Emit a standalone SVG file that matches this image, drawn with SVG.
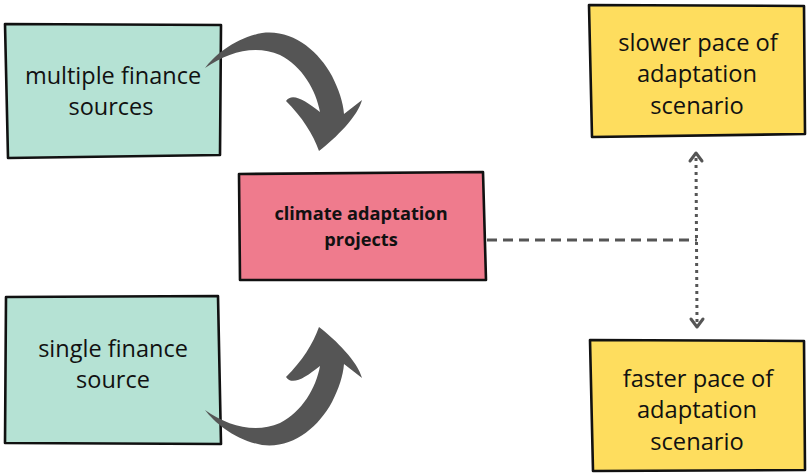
<svg xmlns="http://www.w3.org/2000/svg" width="808" height="473" viewBox="0 0 808 473">
<defs>
<style>
.box{stroke:#111;stroke-width:2.6;stroke-linejoin:round}
.green{fill:#b5e2d4}
.pink{fill:#ef7b8d}
.yellow{fill:#fedd5e}
.t{font-family:"Open Sans","Liberation Sans",sans-serif;font-size:23.5px;fill:#111;text-anchor:middle}
.ty{font-family:"Open Sans","Liberation Sans",sans-serif;font-size:23.7px;fill:#111;text-anchor:middle}
.tb{font-family:"Open Sans","Liberation Sans",sans-serif;font-size:18.2px;font-weight:bold;fill:#111;text-anchor:middle}
.big{fill:#555}
.conn{stroke:#555;stroke-width:3;fill:none}
</style>
<path id="curve" d="M205,68 C215,55 235,38 262,33 C292,29 318,50 332,76 C339,90 343,102 344,114 L362,100 C358,116 336,138 319,151 C313,134 302,117 286,101 C292,92 305,100 320,112 C316,90 302,66 280,55 C255,44 228,52 205,68 Z"/>
</defs>
<g id="multiple">
<path class="box green" d="M5,24 L221,25 L220,155 L8,158 Z"/>
<text class="t" x="113" y="84">multiple finance</text>
<text class="t" x="111" y="115">sources</text>
</g>
<g id="single">
<path class="box green" d="M6,297 L218,296 L221,444 L5,443 Z"/>
<text class="t" x="113" y="357">single finance</text>
<text class="t" x="113" y="388">source</text>
</g>
<g id="projects">
<path class="box pink" d="M239,174 L483,172 L486,280 L240,280 Z"/>
<text class="tb" x="361" y="220">climate adaptation</text>
<text class="tb" x="361" y="246">projects</text>
</g>
<g id="slower">
<path class="box yellow" d="M589,5 L804,6 L805,134 L592,137 Z"/>
<text class="ty" x="698" y="51">slower pace of</text>
<text class="ty" x="697" y="82">adaptation</text>
<text class="ty" x="697" y="114">scenario</text>
</g>
<g id="faster">
<path class="box yellow" d="M590,340 L804,341 L805,470 L593,471 Z"/>
<text class="ty" x="698" y="387">faster pace of</text>
<text class="ty" x="697" y="418">adaptation</text>
<text class="ty" x="697" y="450">scenario</text>
</g>
<g id="connectors">
<use href="#curve" class="big"/>
<use href="#curve" class="big" transform="translate(0,478) scale(1,-1)"/>
<line class="conn" x1="487" y1="240" x2="697" y2="240" stroke-dasharray="10 6"/>
<line class="conn" x1="696" y1="158" x2="697" y2="322" stroke-dasharray="3 4"/>
<polyline class="conn" points="690,161 696,153 702,161" stroke-linecap="round" stroke-linejoin="round"/>
<polyline class="conn" points="691,319 697,327 703,319" stroke-linecap="round" stroke-linejoin="round"/>
</g>
</svg>
